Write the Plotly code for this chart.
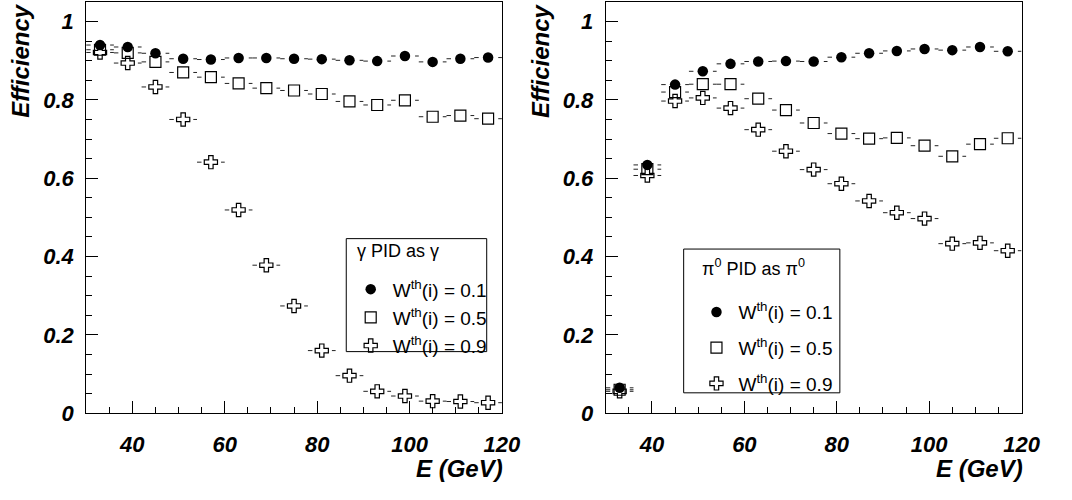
import plotly.graph_objects as go

# Energy bins (GeV): centres of 6 GeV wide bins from 30 to 120
E_CENTRES = [33, 39, 45, 51, 57, 63, 69, 75, 81, 87, 93, 99, 105, 111, 117]
BIN_WIDTH = 6

# photon identification efficiency, gamma identified as gamma
GAMMA_W01 = [0.940, 0.935, 0.919, 0.905, 0.903, 0.907, 0.907, 0.905, 0.904, 0.901, 0.899, 0.912, 0.897, 0.905, 0.908]
GAMMA_W05 = [0.928, 0.920, 0.897, 0.870, 0.858, 0.842, 0.830, 0.824, 0.815, 0.796, 0.787, 0.799, 0.757, 0.760, 0.752]
GAMMA_W09 = [0.921, 0.894, 0.833, 0.750, 0.641, 0.519, 0.378, 0.274, 0.160, 0.096, 0.056, 0.044, 0.031, 0.030, 0.027]

# pi0 identification efficiency, pi0 identified as pi0
PI0_W01 = [0.065, 0.634, 0.839, 0.873, 0.892, 0.898, 0.899, 0.898, 0.909, 0.919, 0.925, 0.930, 0.927, 0.935, 0.924]
PI0_W05 = [0.060, 0.623, 0.820, 0.840, 0.840, 0.803, 0.774, 0.741, 0.714, 0.701, 0.703, 0.683, 0.656, 0.687, 0.702]
PI0_W09 = [0.056, 0.607, 0.797, 0.805, 0.779, 0.724, 0.669, 0.622, 0.586, 0.542, 0.512, 0.497, 0.433, 0.435, 0.415]

SERIES_LABELS = ["W<sup>th</sup>(i) = 0.1", "W<sup>th</sup>(i) = 0.5", "W<sup>th</sup>(i) = 0.9"]
PANEL_HEADERS = ["γ PID as γ", "π<sup>0</sup> PID as π<sup>0</sup>"]
X_TICKS = [40, 60, 80, 100, 120]
Y_TICKS = [0, 0.2, 0.4, 0.6, 0.8, 1]

W = 1072
H = 500

LABEL_FONT = dict(family="Liberation Sans", size=22, color="black", weight="bold", style="italic")
TITLE_FONT = dict(family="Liberation Sans", size=24, color="black", weight="bold", style="italic")
LEGEND_FONT = dict(family="Liberation Sans", size=19, color="black")
HEADER_FONT = dict(family="Liberation Sans", size=18, color="black")

MARKERS = [
    dict(symbol="circle", size=10.5, color="black", line=dict(width=0)),
    dict(symbol="square-open", size=11, color="black", line=dict(width=1.2)),
    dict(symbol="cross-open", size=11, color="black", line=dict(width=1.2)),
]


def bin_segments(values):
    """Horizontal bin-width bars, one sub-path per bin."""
    xs, ys = [], []
    half = BIN_WIDTH / 2
    for e, v in zip(E_CENTRES, values):
        xs += [e - half, e + half, None]
        ys += [v, v, None]
    return xs, ys


fig = go.Figure()


def add_panel(series, xa, ya, legend):
    # bin bars first
    for vals in series:
        xs, ys = bin_segments(vals)
        fig.add_trace(go.Scatter(
            x=xs, y=ys, mode="lines", xaxis=xa, yaxis=ya, showlegend=False,
            line=dict(color="#222222", width=1, dash="4.5px,19.5px"),
            hoverinfo="skip",
        ))
    # markers: crosses, squares, then circles on top
    for i in [2, 1, 0]:
        fig.add_trace(go.Scatter(
            x=E_CENTRES, y=series[i], mode="markers", xaxis=xa, yaxis=ya,
            marker=MARKERS[i], name=SERIES_LABELS[i], legend=legend,
            legendrank=i + 1, legendgroup=f"{legend}{i}",
        ))


add_panel([GAMMA_W01, GAMMA_W05, GAMMA_W09], "x", "y", "legend")
add_panel([PI0_W01, PI0_W05, PI0_W09], "x2", "y2", "legend2")


def px_x(p):
    return p / W


def px_y(p):
    return 1 - p / H


axis_common = dict(
    showline=True, mirror=True, linecolor="black", linewidth=1,
    ticks="inside", tickcolor="black", tickwidth=1, ticklen=12,
    showgrid=False, zeroline=False, tickfont=LABEL_FONT,
)
x_minor = dict(ticks="inside", ticklen=6, dtick=5, tick0=0, tickcolor="black")
y_minor = dict(ticks="inside", ticklen=6, dtick=0.05, tick0=0, tickcolor="black")

y_domain = [px_y(424.3), px_y(2)]

legend_common = dict(
    xanchor="left", yanchor="top", bgcolor="rgba(0,0,0,0)", borderwidth=0,
    font=LEGEND_FONT, itemwidth=34, itemclick=False, itemdoubleclick=False,
)

fig.update_layout(
    width=W, height=H,
    margin=dict(l=0, r=0, t=0, b=0),
    paper_bgcolor="white", plot_bgcolor="white",
    xaxis=dict(domain=[px_x(87.7), px_x(511)], range=[30, 120], tickvals=X_TICKS,
               minor=x_minor, ticklabelstandoff=11, anchor="y", **axis_common),
    yaxis=dict(domain=y_domain, range=[0, 1.05], tickvals=Y_TICKS,
               minor=y_minor, ticklabelstandoff=7, anchor="x", **axis_common),
    xaxis2=dict(domain=[px_x(616.7), px_x(1040)], range=[30, 120], tickvals=X_TICKS,
                minor=x_minor, ticklabelstandoff=11, anchor="y2", **axis_common),
    yaxis2=dict(domain=y_domain, range=[0, 1.05], tickvals=Y_TICKS,
                minor=y_minor, ticklabelstandoff=7, anchor="x2", **axis_common),
    legend=dict(x=px_x(355), y=px_y(277.5), tracegroupgap=0.5, **legend_common),
    legend2=dict(x=px_x(707), y=px_y(301), tracegroupgap=8, **legend_common),
    shapes=[
        dict(type="rect", xref="paper", yref="paper",
             x0=px_x(352.5), x1=px_x(495.5), y0=px_y(361), y1=px_y(245),
             line=dict(color="black", width=1), fillcolor="rgba(0,0,0,0)", layer="below"),
        dict(type="rect", xref="paper", yref="paper",
             x0=px_x(696), x1=px_x(855), y0=px_y(403.3), y1=px_y(255.7),
             line=dict(color="black", width=1), fillcolor="rgba(0,0,0,0)", layer="below"),
    ],
    annotations=[
        dict(text=PANEL_HEADERS[0], x=px_x(361), y=px_y(258), xref="paper", yref="paper",
             xanchor="left", yanchor="middle", showarrow=False, font=HEADER_FONT),
        dict(text=PANEL_HEADERS[1], x=px_x(713), y=px_y(275), xref="paper", yref="paper",
             xanchor="left", yanchor="middle", showarrow=False, font=HEADER_FONT),
        dict(text="Efficiency", x=px_x(20.7), y=px_y(1), xref="paper", yref="paper",
             xanchor="center", yanchor="top", textangle=-90, showarrow=False, font=TITLE_FONT),
        dict(text="Efficiency", x=px_x(550.3), y=px_y(1), xref="paper", yref="paper",
             xanchor="center", yanchor="top", textangle=-90, showarrow=False, font=TITLE_FONT),
        dict(text="E (GeV)", x=px_x(514), y=px_y(481), xref="paper", yref="paper",
             xanchor="right", yanchor="middle", showarrow=False, font=TITLE_FONT),
        dict(text="E (GeV)", x=px_x(1044), y=px_y(481), xref="paper", yref="paper",
             xanchor="right", yanchor="middle", showarrow=False, font=TITLE_FONT),
    ],
)

fig.write_html("out.html")
